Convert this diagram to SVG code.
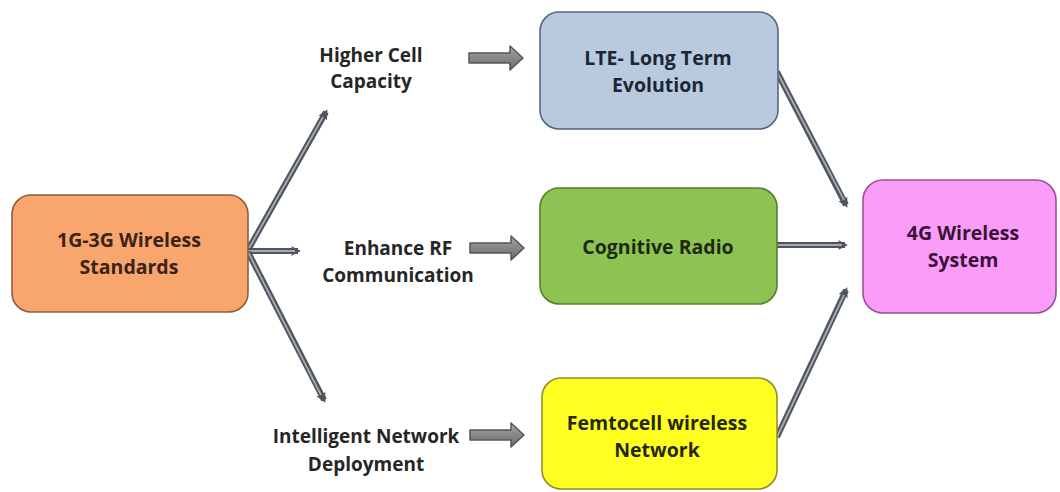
<svg xmlns="http://www.w3.org/2000/svg" width="1060" height="492" viewBox="0 0 1060 492">
  <defs>
    <style>
      .box { stroke-width: 1.6; }
      .lbl { font-family: "Open Sans", Lato, "Liberation Sans", sans-serif; font-weight: bold; font-size: 19.5px; text-anchor: middle; }
      .free { fill: #262626; font-size: 19px; }
      .wire-out { fill: none; stroke: #50555b; stroke-width: 6; stroke-linecap: butt; }
      .wire-in { fill: none; stroke: #a3acb6; stroke-width: 1.8; }
      .fat { fill: url(#fatGrad); stroke: #555555; stroke-width: 1.5; stroke-linejoin: round; }
    </style>
    <linearGradient id="fatGrad" x1="0" y1="0" x2="0" y2="1">
      <stop offset="0" stop-color="#a6a6a6"/>
      <stop offset="0.5" stop-color="#878787"/>
      <stop offset="1" stop-color="#6c6c6c"/>
    </linearGradient>
    <marker id="tip" viewBox="0 0 12 12" refX="7" refY="6" markerWidth="12" markerHeight="12" markerUnits="userSpaceOnUse" orient="auto">
      <path d="M0,1 L10,6 L0,11 L2.5,6 Z" fill="#50555b"/>
    </marker>
    <path id="blockArrow" class="fat" d="M0,-5 H41 V-12 L54,0 L41,12 V5 H0 Z"/>
  </defs>

  <rect width="1060" height="492" fill="#ffffff"/>

  <!-- connectors -->
  <g id="connectors">
    <!-- source fan-out -->
    <g id="c-src-capacity">
      <line class="wire-out" x1="248" y1="250" x2="326" y2="112" marker-end="url(#tip)"/>
      <line class="wire-in" x1="248" y1="250" x2="323" y2="117"/>
    </g>
    <g id="c-src-rf">
      <line class="wire-out" x1="248" y1="251" x2="298" y2="251" marker-end="url(#tip)"/>
      <line class="wire-in" x1="248" y1="251" x2="295" y2="251"/>
    </g>
    <g id="c-src-deploy">
      <line class="wire-out" x1="248" y1="252" x2="324" y2="400" marker-end="url(#tip)"/>
      <line class="wire-in" x1="248" y1="252" x2="321" y2="395"/>
    </g>
    <!-- block arrows into the technology boxes -->
    <use id="c-capacity-lte" href="#blockArrow" x="469" y="58"/>
    <use id="c-rf-cognitive" href="#blockArrow" x="470" y="248"/>
    <use id="c-deploy-femto" href="#blockArrow" x="470" y="435"/>
    <!-- convergence into 4G -->
    <g id="c-lte-4g">
      <line class="wire-out" x1="777" y1="72" x2="846" y2="205" marker-end="url(#tip)"/>
      <line class="wire-in" x1="777" y1="72" x2="844" y2="200"/>
    </g>
    <g id="c-cognitive-4g">
      <line class="wire-out" x1="777" y1="245" x2="845" y2="245" marker-end="url(#tip)"/>
      <line class="wire-in" x1="777" y1="245" x2="842" y2="245"/>
    </g>
    <g id="c-femto-4g">
      <line class="wire-out" x1="777" y1="437" x2="846" y2="290" marker-end="url(#tip)"/>
      <line class="wire-in" x1="777" y1="437" x2="844" y2="295"/>
    </g>
  </g>

  <!-- source -->
  <g id="n-legacy">
    <rect class="box" x="12" y="195" width="236" height="117" rx="19" fill="#f8a56e" stroke="#8e5c3e"/>
    <text class="lbl" x="129" y="247" fill="#3a2418">1G-3G Wireless</text>
    <text class="lbl" x="129" y="274" fill="#3a2418">Standards</text>
  </g>

  <!-- intermediate labels -->
  <g id="n-capacity">
    <text class="lbl free" x="371" y="62">Higher Cell</text>
    <text class="lbl free" x="371" y="88">Capacity</text>
  </g>
  <g id="n-rf">
    <text class="lbl free" x="398" y="255">Enhance RF</text>
    <text class="lbl free" x="398" y="282">Communication</text>
  </g>
  <g id="n-deploy">
    <text class="lbl free" x="366" y="443">Intelligent Network</text>
    <text class="lbl free" x="366" y="471">Deployment</text>
  </g>

  <!-- technologies -->
  <g id="n-lte">
    <rect class="box" x="540" y="12" width="238" height="117" rx="19" fill="#b9cadf" stroke="#56667a"/>
    <text class="lbl" x="658" y="65" fill="#1c2633">LTE- Long Term</text>
    <text class="lbl" x="658" y="92" fill="#1c2633">Evolution</text>
  </g>
  <g id="n-cognitive">
    <rect class="box" x="540" y="188" width="237" height="116" rx="19" fill="#8dc352" stroke="#557f2e"/>
    <text class="lbl" x="658" y="254" fill="#1e2a12">Cognitive Radio</text>
  </g>
  <g id="n-femto">
    <rect class="box" x="542" y="378" width="235" height="111" rx="19" fill="#ffff22" stroke="#8f8f2a"/>
    <text class="lbl" x="657" y="430" fill="#26260a">Femtocell wireless</text>
    <text class="lbl" x="657" y="457" fill="#26260a">Network</text>
  </g>

  <!-- target -->
  <g id="n-4g">
    <rect class="box" x="863" y="180" width="193" height="133" rx="20" fill="#fa9cf8" stroke="#9a4e98"/>
    <text class="lbl" x="963" y="240" fill="#3a1238">4G Wireless</text>
    <text class="lbl" x="963" y="267" fill="#3a1238">System</text>
  </g>
</svg>
